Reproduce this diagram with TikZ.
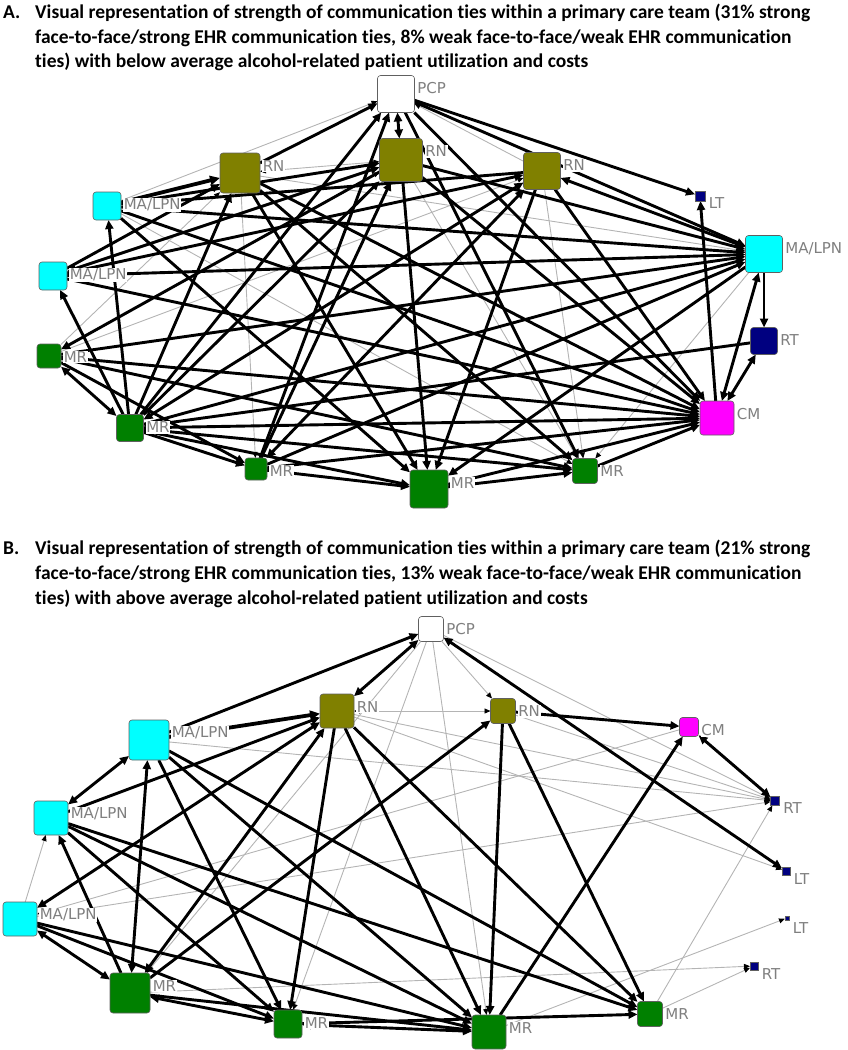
\documentclass[tikz,border=0pt]{standalone}
\usepackage{fontspec}
\setmainfont{DejaVu Sans}
\newfontfamily\titlefont{Carlito}[Ligatures=NoCommon]
\usetikzlibrary{arrows.meta,calc}
\definecolor{olv}{HTML}{808000}
\definecolor{cyn}{HTML}{00FFFF}
\definecolor{grn}{HTML}{008000}
\definecolor{nvy}{HTML}{000080}
\definecolor{mgt}{HTML}{FF00FF}
\definecolor{lblgray}{HTML}{7F7F7F}
\definecolor{weakgray}{HTML}{B4B4B4}
\definecolor{bordergray}{HTML}{606060}
\pgfdeclarelayer{edges}
\pgfsetlayers{edges,main}
\tikzset{
  nbox/.style={draw=bordergray, line width=0.6pt, rounded corners=3pt, inner sep=0pt, outer sep=0pt},
  nboxsm/.style={draw=bordergray, line width=0.4pt, inner sep=0pt, outer sep=0pt},
  lbl/.style={anchor=west, fill=white, inner sep=0.6pt, text=lblgray, font=\fontsize{15}{15}\selectfont},
  ttl/.style={anchor=base west, inner sep=0pt, font=\titlefont\bfseries\fontsize{19.5}{22}\selectfont},
  st/.style={line width=2.9pt, black, -{Triangle[length=9pt,width=8pt]}},
  stb/.style={line width=2.9pt, black, {Triangle[length=9pt,width=8pt]}-{Triangle[length=9pt,width=8pt]}},
  stt/.style={line width=3.8pt, black, -{Triangle[length=10pt,width=9pt]}},
  wk/.style={line width=0.9pt, weakgray, -{Triangle[length=6pt,width=5pt,color=black]}},
  wkb/.style={line width=0.9pt, weakgray, {Triangle[length=6pt,width=5pt,color=black]}-{Triangle[length=6pt,width=5pt,color=black]}},
}
\newcommand\nd[6]{%
  \node[nbox, minimum size=#4pt, fill=#5] (#1) at (#2,#3) {};
  \node[lbl] (#1-l) at ($(#1.north east)+(2pt,-13pt)$) {#6};}
\newcommand\ndsm[6]{%
  \node[nboxsm, minimum size=#4pt, fill=#5] (#1) at (#2,#3) {};
  \node[lbl] (#1-l) at ($(#1.north east)+(3pt,-12pt)$) {#6};}
\begin{document}
\begin{tikzpicture}[x=1pt,y=-1pt]
\useasboundingbox (0,0) rectangle (847,1050);
% titles
\node[ttl] (tA0) at (3,18) {A.};
\node[ttl] (tA1) at (35,18) {Visual representation of strength of communication ties within a primary care team (31\% strong};
\node[ttl] (tA2) at (35,43) {face-to-face/strong EHR communication ties, 8\% weak face-to-face/weak EHR communication};
\node[ttl] (tA3) at (35,67) {ties) with below average alcohol-related patient utilization and costs};
\node[ttl] (tB0) at (3,554) {B.};
\node[ttl] (tB1) at (35,554) {Visual representation of strength of communication ties within a primary care team (21\% strong};
\node[ttl] (tB2) at (35,579) {face-to-face/strong EHR communication ties, 13\% weak face-to-face/weak EHR communication};
\node[ttl] (tB3) at (35,604) {ties) with above average alcohol-related patient utilization and costs};
% panel A nodes
\nd{aPCP}{396}{94}{37}{white}{PCP}
\nd{aRN1}{240}{173}{40}{olv}{RN}
\nd{aRN2}{401}{160}{43}{olv}{RN}
\nd{aRN3}{542}{171}{37}{olv}{RN}
\ndsm{aLT}{700}{196}{10}{nvy}{LT}
\nd{aMAr}{764}{254}{37}{cyn}{MA/LPN}
\nd{aMA1}{107}{206}{28}{cyn}{MA/LPN}
\nd{aMA2}{53}{276}{28}{cyn}{MA/LPN}
\nd{aMR1}{49}{356}{24}{grn}{MR}
\nd{aMR2}{130}{428}{27}{grn}{MR}
\nd{aMR3}{256}{469}{22}{grn}{MR}
\nd{aMR4}{429}{489}{38}{grn}{MR}
\nd{aMR5}{585}{471}{25}{grn}{MR}
\nd{aCM}{717}{418}{34}{mgt}{CM}
\nd{aRT}{764}{341}{27}{nvy}{RT}
% panel B nodes
\nd{bPCP}{431}{629}{25}{white}{PCP}
\nd{bRN1}{337}{711}{34}{olv}{RN}
\nd{bRN2}{503}{711}{25}{olv}{RN}
\nd{bCM}{689}{727}{19}{mgt}{CM}
\ndsm{bRT1}{775}{801}{9}{nvy}{RT}
\ndsm{bLT1}{786}{871}{8}{nvy}{LT}
\ndsm{bLT2}{787}{918}{4}{nvy}{LT}
\ndsm{bRT2}{754}{966}{8}{nvy}{RT}
\nd{bMR5}{650}{1014}{25}{grn}{MR}
\nd{bMR4}{489}{1032}{34}{grn}{MR}
\nd{bMR3}{288}{1024}{28}{grn}{MR}
\nd{bMR2}{130}{993}{40}{grn}{MR}
\nd{bMA3}{20}{919}{34}{cyn}{MA/LPN}
\nd{bMA2}{51}{818}{34}{cyn}{MA/LPN}
\nd{bMA1}{149}{740}{40}{cyn}{MA/LPN}
\begin{pgfonlayer}{edges}
% panel A weak
\foreach \a/\b in {aMA1/aPCP, aRN3/aPCP, aMR1/aRN2, aMR1/aRN3, aRN1/aMR3, aMR1/aRN1, aRN2/aMR5, aRN3/aMR5, aMAr/aMR5, aRN1/aMAr, aMA1/aMR5}
  \draw[wk] (\a) -- (\b);
\draw[wkb] (aRN1) -- (aRN2);
% panel A strong
\foreach \a/\b in {aRN1/aPCP, aPCP/aLT, aPCP/aMAr, aPCP/aCM, aPCP/aMR5, aMR2/aPCP, aMR3/aPCP,
  aMA1/aRN2, aMA2/aRN1, aMA2/aRN3, aMA1/aMAr, aMA2/aMAr, aMA1/aCM, aMA1/aMR4, aMA2/aCM,
  aMR2/aMA1, aMR2/aMA2, aMR1/aMR3, aMR1/aCM, aMR1/aMR5, aMR1/aMAr, aMR2/aRN1, aMR2/aRN2, aMR2/aMAr,
  aMR2/aCM, aMR2/aMR3, aMR2/aMR4, aMR2/aMR5, aMR3/aRN2, aMR3/aMR4, aMR3/aCM, aMR3/aMAr,
  aRN1/aMR4, aRN1/aMR5, aRN1/aCM, aRN2/aMR4, aRN2/aCM, aRN2/aMAr, aRN3/aMR4, aRN3/aCM,
  aMAr/aMR4, aMAr/aRT, aCM/aLT, aRT/aMR2, aMR4/aCM, aMR5/aCM, aMR4/aMR5, aRN3/aMA1, aRN2/aMR1}
  \draw[st] (\a) -- (\b);
\foreach \a/\b in {aPCP/aRN2, aMA2/aRN2, aMR1/aMR2, aRN3/aMR2, aRN3/aMR3, aRN3/aMAr, aMAr/aCM, aCM/aRT}
  \draw[stb] (\a) -- (\b);
\draw[stt] (aMA1) -- (aRN1);
% panel B weak
\foreach \a/\b in {bPCP/bRN2, bPCP/bRT1, bPCP/bMR4, bPCP/bMR3, bPCP/bMR2, bRN1/bRT1, bRN1/bLT1, bRN2/bRT1,
  bMA1/bRT1, bCM/bMA3, bMA3/bRT1, bMR2/bRT2, bMR4/bLT2, bMR5/bRT2, bMR5/bRT1, bMA3/bMA2}
  \draw[wk] (\a) -- (\b);
\draw[wkb] (bRN1) -- (bRN2);
% panel B strong
\foreach \a/\b in {bMA1/bPCP, bMA2/bRN1, bMA1/bMR3, bMA1/bMR4, bMA1/bMR5, bMA2/bMR3, bMA2/bMR5,
  bMA2/bMR4, bMR2/bMA2, bMA3/bMR4, bMA3/bMR3, bRN2/bCM, bMR4/bCM, bRN2/bMR4, bRN2/bMR5, bMR2/bRN2,
  bRN1/bMR3, bRN1/bMR4, bRN1/bMR5, bMR2/bMR4, bMR3/bMR5}
  \draw[st] (\a) -- (\b);
\foreach \a/\b in {bRN1/bPCP, bMA2/bMA1, bMA1/bMR2, bMA3/bRN1, bMA3/bMR2, bPCP/bLT1, bCM/bRT1, bMR2/bRN1, bMR2/bMR3, bMR3/bMR4}
  \draw[stb] (\a) -- (\b);
\draw[stt] (bMA1) -- (bRN1);
\end{pgfonlayer}
\end{tikzpicture}
\end{document}
